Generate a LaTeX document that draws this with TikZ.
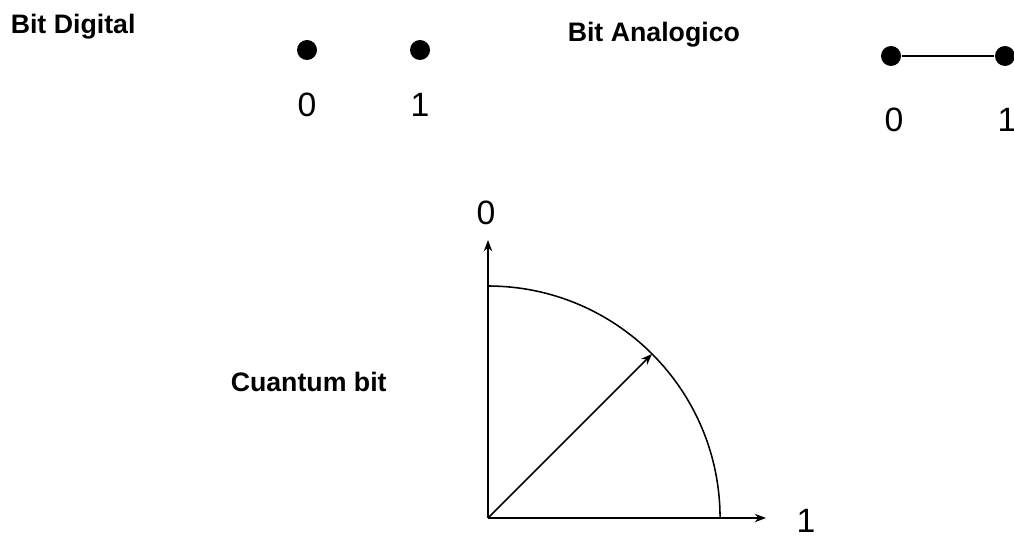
\documentclass[tikz,border=0pt]{standalone}
\usepackage{fontspec}
\setmainfont{Liberation Sans}
\usetikzlibrary{arrows.meta}

\begin{document}
\begin{tikzpicture}[x=0.025cm, y=-0.025cm, line width=1.1pt, >={Stealth[length=8pt, width=6pt]},
  title/.style={font=\fontsize{19}{23}\selectfont\bfseries, anchor=west, inner sep=0pt},
  digit/.style={font=\fontsize{24}{28}\selectfont, inner sep=0pt},
  bitdot/.style={circle, fill=black, inner sep=0pt, minimum size=0.5cm}]
\useasboundingbox (0,0) rectangle (1014,538);
% digital bit
\node[title] (digtitle) at (10,27) {Bit Digital};
\node[bitdot] (digzero) at (307,50) {};
\node[bitdot] (digone) at (420,50) {};
\node[digit] (digzerolbl) at (307,105) {0};
\node[digit] (digonelbl) at (420,105) {1};
% analog bit
\node[title] (antitle) at (567,35) {Bit Analogico};
\node[bitdot] (anzero) at (891,56) {};
\node[bitdot] (anone) at (1005,56) {};
\draw (anzero) -- (anone);
\node[digit] (anzerolbl) at (894,120) {0};
\node[digit] (anonelbl) at (1007,120) {1};
% quantum bit
\node[title] (qtitle) at (230,382) {Cuantum bit};
\coordinate (o) at (488,518);
\coordinate (ytip) at (488,240);
\coordinate (xtip) at (766,518);
\path (o) ++(45:5.8cm) coordinate (psi);
\draw[->] (o) -- (ytip);
\draw[->] (o) -- (xtip);
\draw (488,286) arc[start angle=90, end angle=0, radius=5.8cm];
\draw[->] (o) -- (psi);
\node[digit] (qzero) at (486,213) {0};
\node[digit] (qone) at (806,521) {1};
\end{tikzpicture}
\end{document}
